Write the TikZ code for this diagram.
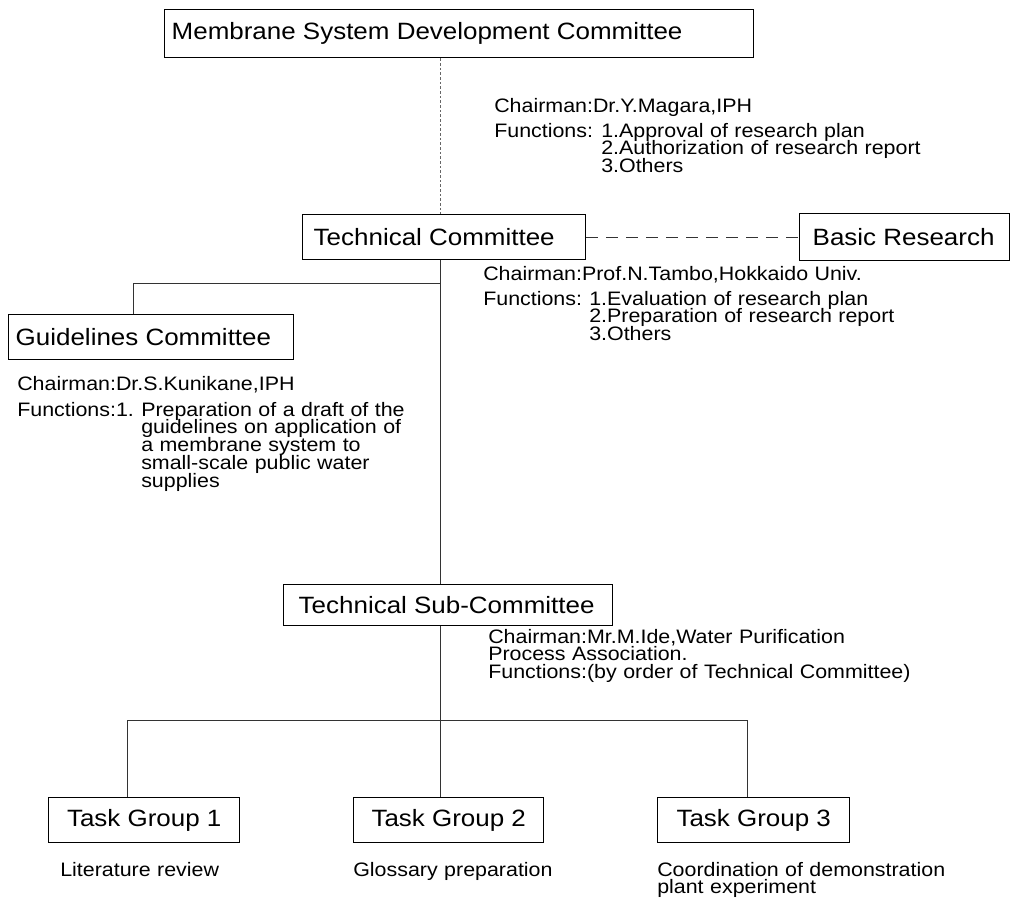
\documentclass[tikz,border=0pt]{standalone}
\usepackage{fontspec}
\setmainfont{Liberation Sans}[FakeStretch=1.1]
\newcommand\bigf{\fontsize{17.7}{20}\selectfont}
\newcommand\smf{\fontsize{14.6}{13.4}\selectfont\lineskiplimit=-20pt\relax}
\begin{document}
\begin{tikzpicture}[x=0.75pt,y=-0.75pt,
  box/.style={draw, line width=1.1pt, font=\bigf, anchor=north west, inner ysep=0pt},
  tgbox/.style={box, inner xsep=0pt},
  info/.style={font=\smf, anchor=base west, inner sep=0pt, text width=380pt, align=left},
  conn/.style={line width=0.7pt, black!80},
  dotline/.style={line width=0.6pt, black!60, dash pattern=on 2pt off 1.5pt},
  dashline/.style={line width=0.7pt, black!80, dash pattern=on 9pt off 6pt}]
\useasboundingbox (0,0) rectangle (1010,900);

% boxes
\node[box, inner xsep=5.25pt, minimum height=36pt] (msdc) at (164,9)
  {\makebox[431pt][l]{Membrane System Development Committee}};
\node[box, inner xsep=8.25pt, minimum height=33.75pt] (tc) at (302,214)
  {\makebox[195.75pt][l]{Technical Committee}};
\node[box, inner xsep=9.75pt, minimum height=35.25pt] (br) at (799,213)
  {\makebox[138pt][l]{Basic Research}};
\node[box, inner xsep=5.25pt, minimum height=33.75pt] (gc) at (8,314)
  {\makebox[203.25pt][l]{Guidelines Committee}};
\node[box, inner xsep=11.25pt, minimum height=30.75pt] (tsc) at (283,584)
  {\makebox[224.25pt][l]{Technical Sub-Committee}};
\node[tgbox, minimum width=143.25pt, minimum height=33.75pt] (tg1) at (48,797) {Task Group 1};
\node[tgbox, minimum width=142.5pt, minimum height=33.75pt] (tg2) at (353,797) {Task Group 2};
\node[tgbox, minimum width=144pt, minimum height=33.75pt] (tg3) at (657,797) {Task Group 3};

% info texts
\node[info] (c1) at (494,112) {Chairman:Dr.Y.Magara,IPH};
\node[info] (f1) at (494,137) {Functions:};
\node[info] (i1) at (601,137) {1.Approval of research plan\\2.Authorization of research report\\3.Others};

\node[info] (c2) at (483,280) {Chairman:Prof.N.Tambo,Hokkaido Univ.};
\node[info] (f2) at (483,305) {Functions:};
\node[info] (i2) at (589,305) {1.Evaluation of research plan\\2.Preparation of research report\\3.Others};

\node[info] (c3) at (17,390) {Chairman:Dr.S.Kunikane,IPH};
\node[info] (f3) at (17,416) {Functions:1.};
\node[info] (i3) at (141,416) {Preparation of a draft of the\\guidelines on application of\\a membrane system to\\small-scale public water\\supplies};

\node[info] (c4) at (488,643) {Chairman:Mr.M.Ide,Water Purification\\Process Association.\\Functions:(by order of Technical Committee)};

\node[info] (l1) at (60,876) {Literature review};
\node[info] (l2) at (353,876) {Glossary preparation};
\node[info] (l3) at (657,876) {Coordination of demonstration\\plant experiment};

% connectors
\coordinate (spine) at (440,0);
\coordinate (gcx) at (133,0);
\coordinate (t1x) at (127,0);
\coordinate (t3x) at (747,0);
\coordinate (brn) at (440,283);
\coordinate (bar) at (440,720);

\draw[dotline] (msdc.south -| spine) -- (tc.north -| spine);
\draw[dashline] (tc.east) -- (br.west);
\draw[conn] (tc.south -| spine) -- (tsc.north -| spine);
\draw[conn] (brn) -| (gc.north -| gcx);
\draw[conn] (tsc.south -| spine) -- (tg2.north -| spine);
\draw[conn] (tg1.north -| t1x) |- (bar) -| (tg3.north -| t3x);
\end{tikzpicture}
\end{document}
